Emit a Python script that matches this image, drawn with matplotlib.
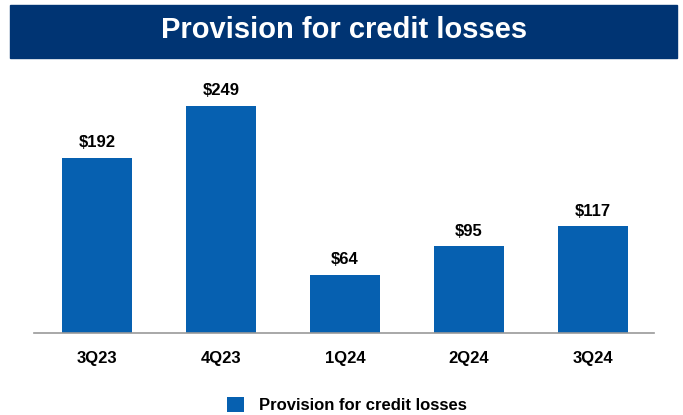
import numpy as np
import matplotlib.pyplot as plt
from matplotlib.patches import Rectangle

plt.rcParams['font.family'] = ['Liberation Sans', 'DejaVu Sans']
plt.rcParams['font.weight'] = 'bold'

quarters = ['3Q23', '4Q23', '1Q24', '2Q24', '3Q24']
provision = [192, 249, 64, 95, 117]

bar_color = '#0660b0'
navy = '#003473'

W, H = 683, 415
fig = plt.figure(figsize=(W / 100, H / 100), dpi=100)

# header banner
fig.patches.append(Rectangle((10 / W, 1 - 58 / H), 667 / W, 53 / H,
                             transform=fig.transFigure, color=navy, zorder=0))
fig.text(344 / W, 1 - 30 / H, 'Provision for credit losses', color='white',
         fontsize=21, fontweight='bold', ha='center', va='center')

ax = fig.add_axes([34 / W, (H - 333) / H, 620 / W, 273.6 / H])
x = np.arange(len(quarters))
bars = ax.bar(x, provision, width=0.565, color=bar_color, label='Provision for credit losses')
for xi, v in zip(x, provision):
    ax.annotate(f'${v}', (xi, v), xytext=(0, 5.5), textcoords='offset points',
                ha='center', va='bottom', fontsize=12, fontweight='bold')

ax.set_xlim(-0.508, 4.492)
ax.set_ylim(0, 300)
ax.set_xticks(x)
ax.set_xticklabels(quarters, fontsize=12, fontweight='bold')
ax.tick_params(axis='x', length=0, pad=13)
ax.set_yticks([])
for s in ['top', 'right', 'left']:
    ax.spines[s].set_visible(False)
ax.spines['bottom'].set_color('#999999')
ax.spines['bottom'].set_linewidth(1.2)

fig.legend(handles=[bars], labels=['Provision for credit losses'], loc='center',
           bbox_to_anchor=(347 / W, 1 - 405 / H), frameon=False, fontsize=12,
           handlelength=1.0, handleheight=1.0, handletextpad=0.9)

fig.savefig('out.png', dpi=100)
